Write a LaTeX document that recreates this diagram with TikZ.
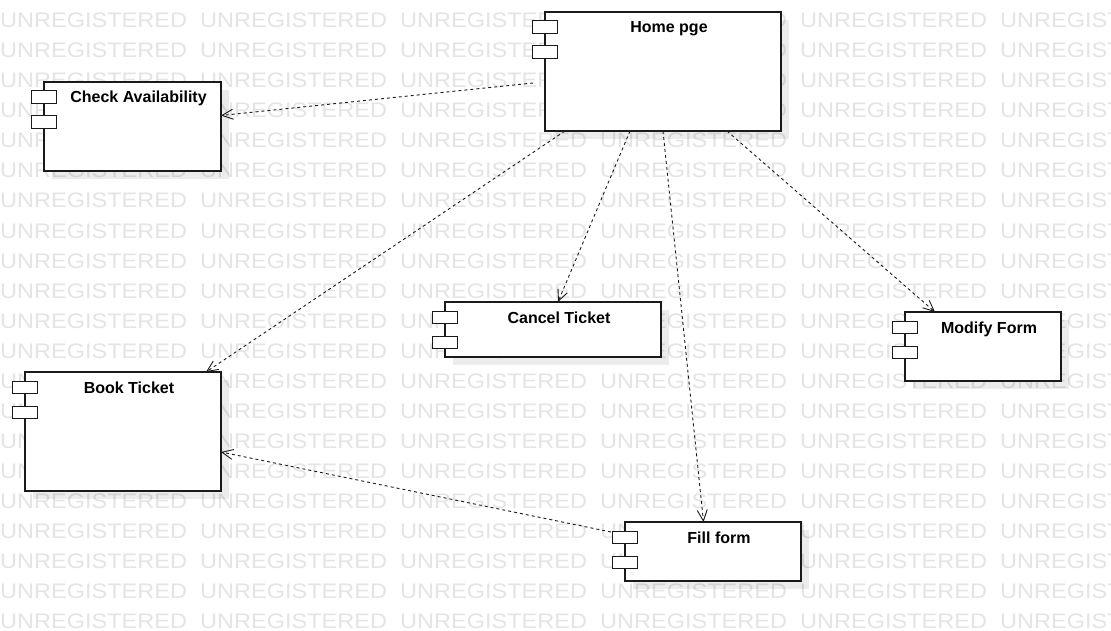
\documentclass[tikz,border=0pt]{standalone}
\usepackage{fontspec}
\setmainfont{Liberation Sans}
\newfontfamily\wmfont[FakeStretch=1.12]{Liberation Sans}
\usetikzlibrary{arrows.meta,calc}

\definecolor{wmgray}{HTML}{E4E4E4}
\definecolor{edgegray}{HTML}{1A1A1A}

\tikzset{
  wm/.style={font=\wmfont\fontsize{21}{21}\selectfont, text=wmgray, inner sep=0pt, anchor=base west},
  compshadow/.style={fill=black, fill opacity=0.075},
  compbox/.style={draw=edgegray, fill=white, line width=1.2pt, inner sep=0pt, outer sep=0pt, rectangle},
  port/.style={draw=edgegray, fill=white, line width=1pt},
  comptitle/.style={font=\bfseries\fontsize{16}{19}\selectfont, inner sep=0pt},
  dep/.style={draw=edgegray, line width=0.9pt, dash pattern=on 3pt off 3pt,
    -{Straight Barb[length=11pt, width=10pt, line width=0.9pt]}},
}

% component box: name, left, top, width, height, title
\newcommand{\umlcomp}[6]{%
  \fill[compshadow] (#2+8,#3+8) rectangle ++(#4,#5);
  \node[compbox, minimum width=#4, minimum height=#5, anchor=north west] (#1) at (#2,#3) {};
  \draw[port] ($(#1.north west)+(-12.5,9)$) rectangle ++(25,12.5);
  \draw[port] ($(#1.north west)+(-12.5,34)$) rectangle ++(25,12.5);
  \node[comptitle, anchor=base] (#1-title) at ($(#1.north west)+(#4/2+6,21)$) {#6};
}

\begin{document}
\begin{tikzpicture}[x=1pt, y=-1pt]
  \clip (0,0) rectangle (1111,631);
  \fill[white] (0,0) rectangle (1111,631);

  % tiled background lettering
  \foreach \r in {0,...,20}{
    \foreach \c in {0,...,5}{
      \node[wm] (wm-\r-\c) at (200*\c, 28+30*\r) {UNREGISTERED};
    }
  }

  % components
  \umlcomp{home}{545}{12}{236}{119}{Home pge}
  \umlcomp{check}{44}{82}{177}{89}{Check Availability}
  \umlcomp{cancel}{445}{302}{216}{55}{Cancel Ticket}
  \umlcomp{modify}{905}{312}{156}{69}{Modify Form}
  \umlcomp{book}{25}{372}{196}{119}{Book Ticket}
  \umlcomp{fill}{625}{522}{176}{59}{Fill form}

  % dependencies
  \draw[dep] ($(home.north west)+(-12,71)$) -- ($(check.north east)+(0,33.5)$);
  \draw[dep] ($(home.south west)+(20,0)$) -- ($(book.north west)+(181,0)$);
  \draw[dep] ($(home.south west)+(85,0)$) -- ($(cancel.north west)+(113,0)$);
  \draw[dep] ($(home.south west)+(118,0)$) -- ($(fill.north west)+(78.5,0)$);
  \draw[dep] ($(home.south west)+(182,0)$) -- ($(modify.north west)+(30,0)$);
  \draw[dep] ($(fill.north west)+(-14,10)$) -- ($(book.north east)+(0,80)$);
\end{tikzpicture}
\end{document}
